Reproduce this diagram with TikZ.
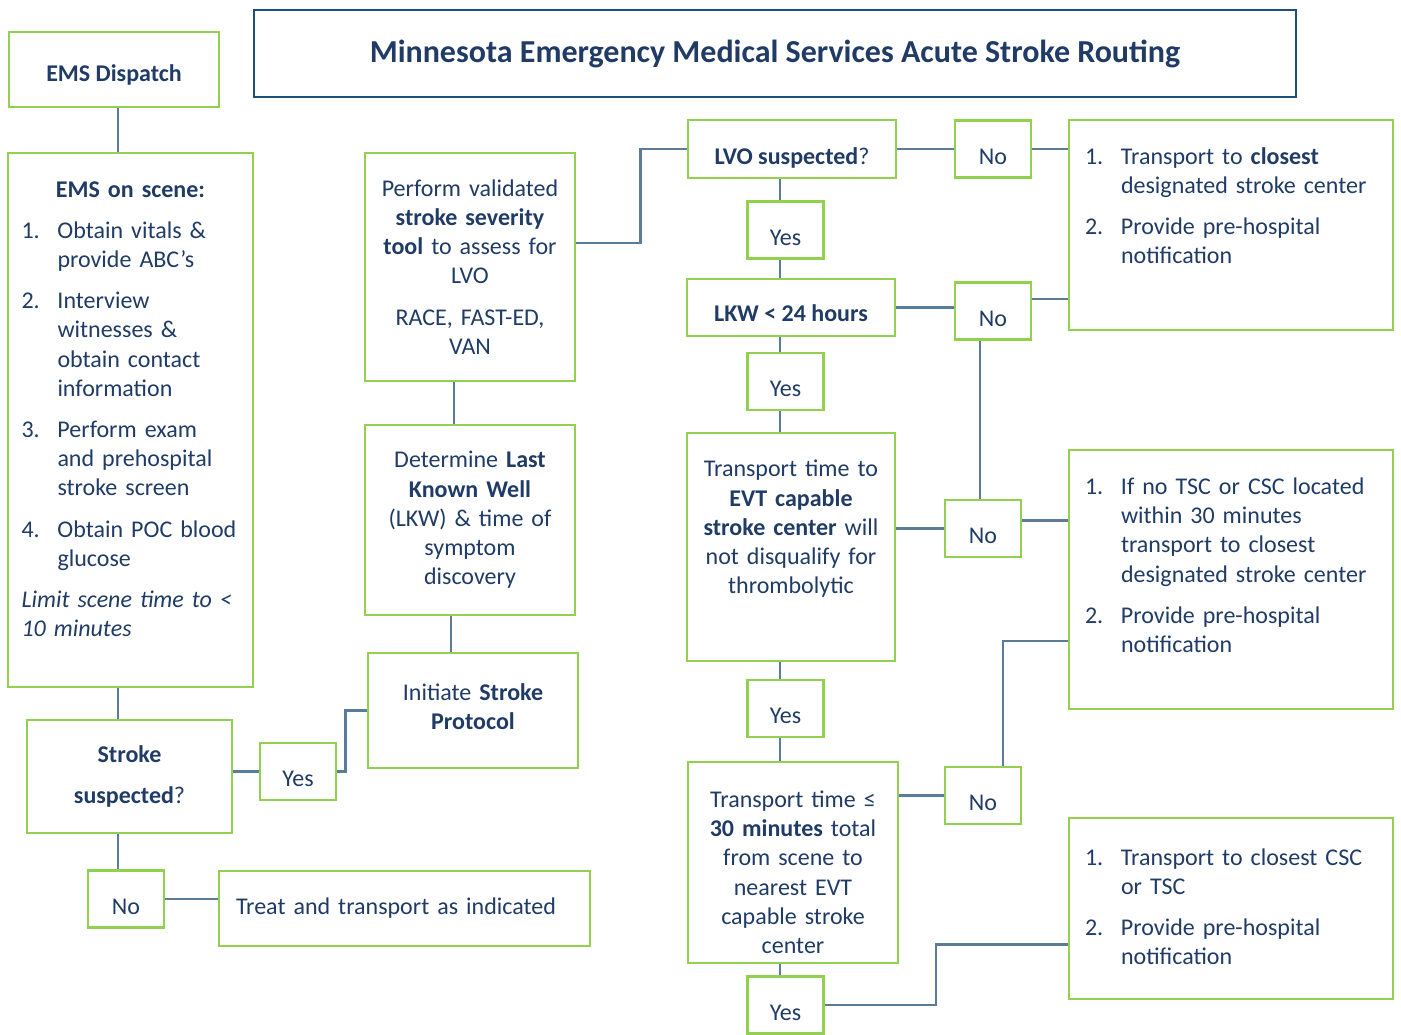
\documentclass[tikz,border=0pt]{standalone}
\usepackage{fontspec}
\setmainfont{Carlito}
\usepackage{xcolor}
\usetikzlibrary{positioning,calc}

\definecolor{boxgreen}{HTML}{92D050}
\definecolor{navy}{HTML}{1F3B66}
\definecolor{linkblue}{HTML}{5B7B9A}
\definecolor{titleblue}{HTML}{1F4E79}

% numbered step with hanging indent
\newcommand\numitem[2]{\par\hangindent=18pt\hangafter=1\noindent\makebox[18pt][l]{#1}{\let\\\newline#2}\par}
% extra depth below the last line, pushes the text upwards in its box
\newcommand\lowstrut[1]{\rule[-#1]{0pt}{#1}}

\begin{document}
\begin{tikzpicture}[x=0.5pt,y=-0.5pt,
  every node/.style={text=navy},
  box/.style={draw=boxgreen,line width=1.4pt,inner sep=0pt,align=center,
    font=\fontsize{12}{14.6}\selectfont,
    execute at begin node={\setlength{\parskip}{6pt}}},
  listbox/.style={box,align=left},
  tag/.style={box,minimum width=38pt,minimum height=28.5pt,text height=16pt,text depth=1pt},
  link/.style={draw=linkblue,line width=1.1pt}]
\useasboundingbox (0,0) rectangle (1401,1034);

\node[draw=titleblue,line width=1.1pt,minimum width=521pt,minimum height=43.5pt,
  font=\fontsize{16}{19}\selectfont\bfseries] (title) at (775,53.5)
  {Minnesota Emergency Medical Services Acute Stroke Routing};

% left column
\node[box,minimum width=105pt,minimum height=37.5pt,text height=12.7pt,text depth=1pt] (dispatch) at (114,69.5)
  {\textbf{EMS Dispatch}};
\node[listbox,minimum width=122.5pt,minimum height=267pt,text width=109pt] (scene) at (130.5,420) {%
  {\centering\textbf{EMS on scene:}\par}
  \numitem{1.}{Obtain vitals \&\\provide ABC’s}
  \numitem{2.}{Interview\\witnesses \&\\obtain contact\\information}
  \numitem{3.}{Perform exam\\and prehospital\\stroke screen}
  \numitem{4.}{Obtain POC blood\\glucose}
  \textit{Limit scene time to <\\10 minutes}\lowstrut{11pt}};
\node[box,minimum width=102.5pt,minimum height=56.5pt,text width=95pt] (stroke) at (129.5,776.5)
  {\textbf{Stroke}\\[6pt]\textbf{suspected}?};
\node[tag] (yes0) at (298,771.5) {Yes};
\node[tag] (no0) at (126,899) {No};
\node[listbox,minimum width=185.5pt,minimum height=37.5pt,text width=168.5pt] (treat) at (404.5,908.5)
  {Treat and transport as indicated};

% middle column
\node[box,minimum width=105pt,minimum height=114pt,text width=95pt] (perform) at (470,267)
  {Perform validated\\\textbf{stroke severity}\\\textbf{tool} to assess for\\LVO\par RACE, FAST-ED,\\VAN};
\node[box,minimum width=105pt,minimum height=95pt,text width=95pt] (determine) at (470,520)
  {Determine \textbf{Last}\\\textbf{Known Well}\\(LKW) \& time of\\symptom\\discovery};
\node[box,minimum width=105pt,minimum height=57.5pt,text width=95pt] (initiate) at (473,710.5)
  {Initiate \textbf{Stroke}\\\textbf{Protocol}\lowstrut{4pt}};

% decision column
\node[box,minimum width=104pt,minimum height=29pt,text height=16.5pt,text depth=1pt] (lvo) at (792,149)
  {\textbf{LVO suspected}?};
\node[tag] (yes1) at (785.5,230) {Yes};
\node[box,minimum width=104pt,minimum height=28.5pt,text height=15pt,text depth=1pt] (lkw) at (791,307.5)
  {\textbf{LKW < 24 hours}};
\node[tag] (yes2) at (785.5,381.5) {Yes};
\node[box,minimum width=104pt,minimum height=114pt,text width=96pt] (evt) at (791,547)
  {Transport time to\\\textbf{EVT capable}\\\textbf{stroke center} will\\not disqualify for\\thrombolytic\lowstrut{20pt}};
\node[tag] (yes3) at (785.5,708.5) {Yes};
\node[box,minimum width=105pt,minimum height=100.5pt,text width=96pt] (close) at (793,862.5)
  {\rule{0pt}{18pt}Transport time ≤\\\textbf{30 minutes} total\\from scene to\\nearest EVT\\capable stroke\\center};
\node[tag] (yes4) at (785.5,1005) {Yes};

\node[tag] (no1) at (993,149) {No};
\node[tag] (no2) at (993,311) {No};
\node[tag] (no3) at (983,528.5) {No};
\node[tag] (no4) at (983,795.5) {No};

% destinations
\node[listbox,minimum width=162pt,minimum height=105pt,text width=146pt] (dest1) at (1231,225) {%
  \numitem{1.}{Transport to \textbf{closest}\\designated stroke center}
  \numitem{2.}{Provide pre-hospital\\notification}\lowstrut{11pt}};
\node[listbox,minimum width=162pt,minimum height=129.5pt,text width=146pt] (dest2) at (1231,579.5) {%
  \numitem{1.}{If no TSC or CSC located\\within 30 minutes\\transport to closest\\designated stroke center}
  \numitem{2.}{Provide pre-hospital\\notification}\lowstrut{6pt}};
\node[listbox,minimum width=162pt,minimum height=90.5pt,text width=146pt] (dest3) at (1231,908.5) {%
  \numitem{1.}{Transport to closest CSC\\or TSC}
  \numitem{2.}{Provide pre-hospital\\notification\lowstrut{14pt}}};

% connectors
\draw[link] ([xshift=2pt]dispatch.south) -- ([xshift=2pt]dispatch.south |- scene.north);
\draw[link] ([xshift=-5.75pt]stroke.north) -- ([xshift=-5.75pt]stroke.north |- scene.south);
\draw[link] (yes0.west) -- (yes0.west -| stroke.east);
\draw[link] (yes0.east) -- ++(8,0) |- (initiate.west);
\draw[link] ([xshift=-5.75pt]stroke.south) -- ([xshift=-5.75pt]stroke.south |- no0.north);
\draw[link] (no0.east) -- (no0.east -| treat.west);
\draw[link] ([xshift=-8pt]perform.south) -- ([xshift=-8pt]perform.south |- determine.north);
\draw[link] ([xshift=-9.5pt]determine.south) -- ([xshift=-9.5pt]determine.south |- initiate.north);
\draw[link] ([yshift=12pt]perform.east) -- ++(64,0) |- (lvo.west);
\draw[link] (lvo.east) -- (no1.west);
\draw[link] (no1.east) -- (no1.east -| dest1.west);
\draw[link] ([xshift=-2.75pt]yes1.north) -- ([xshift=-2.75pt]yes1.north |- lvo.south);
\draw[link] ([xshift=-2.75pt]yes1.south) -- ([xshift=-2.75pt]yes1.south |- lkw.north);
\draw[link] (lkw.east) -- (lkw.east -| no2.west);
\draw[link] ([yshift=6pt]no2.east) -- ([yshift=6pt]no2.east -| dest1.west);
\draw[link] ([xshift=-1.5pt]no3.north) -- ([xshift=-1.5pt]no3.north |- no2.south);
\draw[link] ([xshift=-2.75pt]yes2.north) -- ([xshift=-2.75pt]yes2.north |- lkw.south);
\draw[link] ([xshift=-2.75pt]yes2.south) -- ([xshift=-2.75pt]yes2.south |- evt.north);
\draw[link] (no3.west) -- (no3.west -| evt.east);
\draw[link] ([yshift=4pt]no3.east) -- ([yshift=4pt]no3.east -| dest2.west);
\draw[link] ([xshift=-2.75pt]yes3.north) -- ([xshift=-2.75pt]yes3.north |- evt.south);
\draw[link] ([xshift=-2.75pt]yes3.south) -- ([xshift=-2.75pt]yes3.south |- close.north);
\draw[link] (no4.west) -- (no4.west -| close.east);
\draw[link] ([xshift=10pt]no4.north) |- ([yshift=-30.75pt]dest2.west);
\draw[link] ([xshift=-2.75pt]yes4.north) -- ([xshift=-2.75pt]yes4.north |- close.south);
\draw[link] (yes4.east) -- ++(111,0) |- ([yshift=-18pt]dest3.west);
\end{tikzpicture}
\end{document}
